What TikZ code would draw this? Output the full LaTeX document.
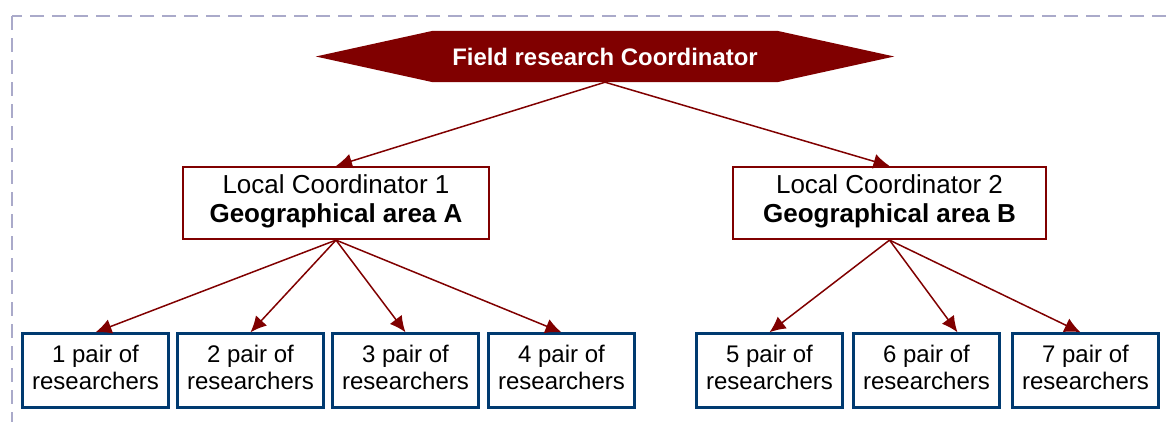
\documentclass[tikz,border=0pt]{standalone}
\usepackage{fontspec}
\setmainfont{Liberation Sans}
\usetikzlibrary{arrows.meta,calc}
\definecolor{dred}{RGB}{128,0,0}
\definecolor{navy}{RGB}{0,58,112}
\definecolor{framec}{RGB}{170,170,202}
\tikzset{
  localbox/.style={draw=dred, line width=2.2pt, fill=white, minimum width=306pt, minimum height=72pt, inner sep=0pt, align=center, text depth=9pt, font=\fontsize{26}{29}\selectfont},
  pairbox/.style={draw=navy, line width=2.4pt, fill=white, minimum width=146pt, minimum height=74pt, inner sep=0pt, align=center, text depth=6pt, font=\fontsize{24}{27.3}\selectfont},
  conn/.style={draw=dred, line width=1.5pt, -{Latex[length=16pt,width=15pt]}},
}
\begin{document}
\begin{tikzpicture}[x=1pt,y=-1pt]
\useasboundingbox (0,0) rectangle (1171,421);
\clip (0,0) rectangle (1171,421);
\draw[framec, line width=2pt, dash pattern=on 14pt off 8pt] (12,16) rectangle (1200,450);
% top hexagon
\node (fr) at (605,56.5) [minimum width=344pt, minimum height=51pt, inner sep=0pt] {};
\fill[dred] (fr.north west) -- (fr.north east) -- ($(fr.east)+(117,0)$) -- (fr.south east) -- (fr.south west) -- ($(fr.west)+(-117,0)$) -- cycle;
\node (frt) at (fr.center) [text=white, font=\bfseries\fontsize{23.9}{26}\selectfont] {Field research Coordinator};
% local coordinators
\node[localbox] (l1) at (336,203) {Local Coordinator 1\\\textbf{Geographical area A}};
\node[localbox, minimum width=313pt] (l2) at (889.5,203) {Local Coordinator 2\\\textbf{Geographical area B}};
% pairs
\node[pairbox] (p1) at (95.5,370.5) {1 pair of\\researchers};
\node[pairbox] (p2) at (250.5,370.5) {2 pair of\\researchers};
\node[pairbox] (p3) at (405.5,370.5) {3 pair of\\researchers};
\node[pairbox] (p4) at (561.5,370.5) {4 pair of\\researchers};
\node[pairbox] (p5) at (769.5,370.5) {5 pair of\\researchers};
\node[pairbox] (p6) at (926.5,370.5) {6 pair of\\researchers};
\node[pairbox] (p7) at (1085.5,370.5) {7 pair of\\researchers};
% connectors
\draw[conn] (fr.south) -- (l1.north);
\draw[conn] (fr.south) -- (l2.north);
\foreach \p in {p1,p2,p3,p4} \draw[conn] (l1.south) -- (\p.north);
\draw[conn] (l2.south) -- (p5.north);
\draw[conn] (l2.south) -- ($(p6.north)+(31,0)$);
\draw[conn] (l2.south) -- ($(p7.north)+(-5,0)$);
\end{tikzpicture}
\end{document}
